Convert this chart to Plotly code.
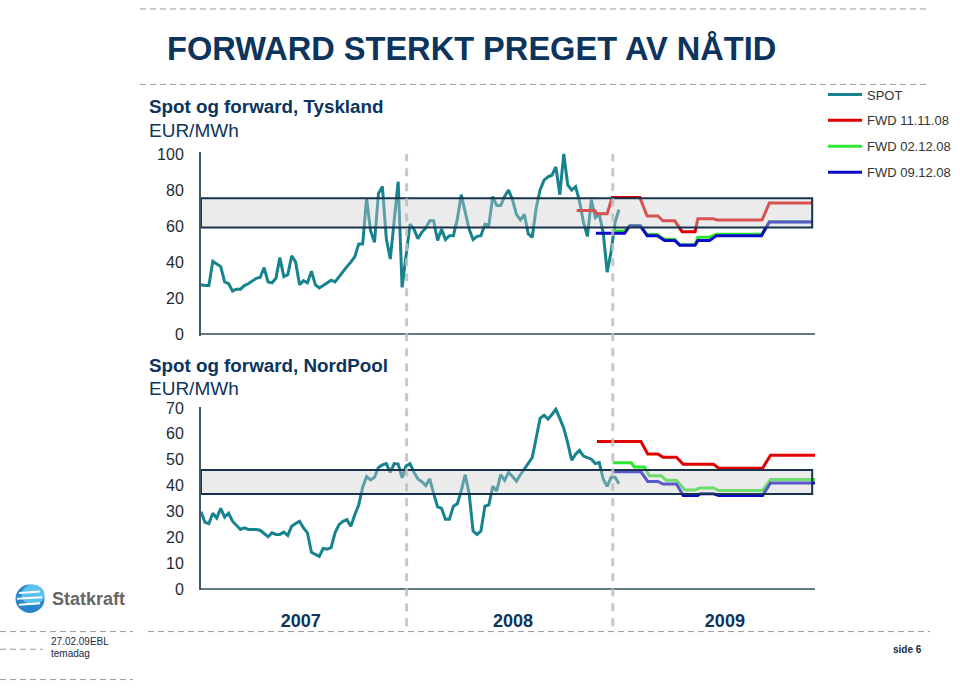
import plotly.graph_objects as go
import pandas as pd

# ---------------- data ----------------
spot_start = "2007-01-01"   # weekly spot prices from this date

spot_de = [27.5, 27.0, 27.0, 40.5, 39.0, 37.5, 29.0, 28.0, 24.0, 25.0,
           25.0, 27.0, 28.0, 29.5, 31.0, 31.5, 37.0, 29.0, 28.5, 31.0,
           42.5, 32.0, 33.0, 43.5, 40.0, 27.5, 29.7, 28.5, 35.0, 27.5,
           25.7, 27.0, 28.5, 30.0, 29.0, 32.0, 35.0, 37.5, 40.0, 43.0,
           50.0, 50.0, 75.5, 57.4, 51.0, 78.0, 82.0, 53.0, 41.7, 64.0,
           84.6, 26.0,
           42.0, 61.0, 58.3, 53.0, 56.5, 59.0, 63.0, 63.0, 52.0, 58.3,
           52.5, 54.7, 54.7, 63.8, 77.4, 67.4, 58.3, 52.5, 54.3, 54.7,
           61.0, 60.5, 76.4, 71.4, 71.4, 76.4, 80.0, 74.6, 66.5, 63.4,
           66.5, 55.6, 53.8, 70.0, 80.0, 85.5, 87.3, 88.2, 92.8, 77.4,
           100.0, 82.8, 80.0, 81.9, 73.7, 62.0, 54.3, 74.6, 64.7, 66.5,
           56.5, 34.4, 45.7, 62.0, 69.2]

spot_np = [29.9, 25.8, 25.3, 29.3, 27.4, 31.2, 27.8, 29.3, 26.2, 24.5,
           23.0, 23.6, 23.0, 23.0, 23.0, 22.7, 21.5, 20.2, 21.7, 21.1,
           21.1, 22.0, 20.7, 24.3, 25.3, 26.2, 23.6, 21.7, 14.2, 13.5,
           12.6, 15.7, 15.4, 16.0, 21.7, 24.9, 26.2, 26.8, 24.3, 28.7,
           32.5, 39.4, 43.5, 42.2, 43.2, 47.0, 48.0, 48.5, 45.1, 48.5,
           48.3, 43.0, 47.6, 48.5, 45.1, 42.6, 41.5, 40.0, 42.6, 37.0,
           31.8, 31.2, 27.0, 27.0, 32.0, 32.9, 38.0, 44.2, 36.9, 22.4,
           21.1, 22.4, 32.0, 32.5, 39.7, 37.9, 44.2, 42.0, 45.1, 43.5,
           41.7, 44.2, 46.4, 48.3, 50.8, 58.4, 66.0, 67.2, 65.7, 67.5,
           69.5, 66.0, 62.2, 56.5, 49.8, 52.1, 53.6, 51.4, 50.8, 50.2,
           48.5, 48.9, 42.6, 39.7, 43.2, 43.2, 40.7]

# Germany forwards (date, price)
fwd_de_1111_dates = ["2008-10-29", "2008-11-30", "2008-12-04", "2008-12-22", "2008-12-31",
                     "2009-02-18", "2009-03-03", "2009-03-22", "2009-03-31", "2009-04-21",
                     "2009-05-04", "2009-05-27", "2009-06-01", "2009-06-28", "2009-07-05",
                     "2009-09-23", "2009-10-06", "2009-12-21"]
fwd_de_1111 = [68.6, 68.6, 66.8, 66.8, 75.9, 75.9, 65.6, 65.6, 62.9, 62.9,
               56.9, 56.9, 64.1, 64.1, 63.4, 63.4, 72.8, 72.8]

fwd_de_0212_dates = ["2009-01-01", "2009-01-22", "2009-01-31", "2009-02-19", "2009-03-03",
                     "2009-03-21", "2009-04-03", "2009-04-21", "2009-04-30", "2009-05-27",
                     "2009-06-01", "2009-06-22", "2009-07-04", "2009-09-22", "2009-10-06",
                     "2009-12-21"]
fwd_de_0212 = [57.2, 57.2, 60.3, 60.3, 55.3, 55.3, 52.7, 52.7, 49.6, 49.6,
               53.8, 53.8, 55.4, 55.4, 62.4, 62.4]

fwd_de_0912_dates = ["2008-12-02", "2009-01-22", "2009-01-31", "2009-02-19", "2009-03-03",
                     "2009-03-21", "2009-04-03", "2009-04-21", "2009-04-30", "2009-05-27",
                     "2009-06-01", "2009-06-22", "2009-07-04", "2009-09-22", "2009-10-06",
                     "2009-12-21"]
fwd_de_0912 = [56.0, 56.0, 60.1, 60.1, 54.7, 54.7, 52.0, 52.0, 49.3, 49.3,
               52.0, 52.0, 54.7, 54.7, 62.3, 62.3]

# NordPool forwards (date, price)
fwd_np_1111_dates = ["2008-12-04", "2009-02-20", "2009-03-04", "2009-03-22", "2009-03-31",
                     "2009-04-24", "2009-05-06", "2009-06-29", "2009-07-08", "2009-09-24",
                     "2009-10-08", "2009-12-26"]
fwd_np_1111 = [57.0, 57.0, 52.2, 52.2, 51.0, 51.0, 48.2, 48.2, 46.7, 46.7, 51.7, 51.7]

fwd_np_0212_dates = ["2009-01-01", "2009-02-03", "2009-02-08", "2009-02-26", "2009-03-07",
                     "2009-03-28", "2009-04-06", "2009-04-24", "2009-05-09", "2009-05-27",
                     "2009-06-05", "2009-06-29", "2009-07-08", "2009-09-24", "2009-10-08",
                     "2009-12-26"]
fwd_np_0212 = [48.8, 48.8, 47.2, 47.2, 43.8, 43.8, 42.1, 42.1, 38.3, 38.3,
               39.1, 39.1, 38.1, 38.1, 42.3, 42.3]

fwd_np_0912_dates = ["2009-01-01", "2009-02-20", "2009-03-04", "2009-03-22", "2009-03-31",
                     "2009-04-24", "2009-05-06", "2009-06-01", "2009-06-05", "2009-06-29",
                     "2009-07-08", "2009-09-24", "2009-10-08", "2009-12-26"]
fwd_np_0912 = [45.3, 45.3, 41.6, 41.6, 40.6, 40.6, 36.2, 36.2, 36.8, 36.8,
               36.2, 36.2, 41.0, 41.0]

band_de = [59.2, 75.5]
band_np = [36.7, 46.0]
band_end = "2009-12-21"
year_starts = ["2008-01-01", "2009-01-01"]
year_labels = ["2007", "2008", "2009"]
year_label_pos = ["2007-06-27", "2008-07-08", "2009-07-19"]
series_names = ["SPOT", "FWD 11.11.08", "FWD 02.12.08", "FWD 09.12.08"]

# ---------------- style ----------------
W, H = 960, 691
C_SPOT, C_RED, C_GREEN, C_BLUE = "#16838f", "#e00000", "#2ee62e", "#0a0ac8"
NAVY = "#0c345c"
ARIAL = "Liberation Sans, Arial, sans-serif"

def px(v):   # horizontal pixel -> paper
    return v / W

def py(v):   # vertical pixel -> paper
    return 1 - v / H

spot_dates = pd.date_range(spot_start, periods=len(spot_de), freq="7D")
xr = ["2007-01-01", "2009-12-26"]

fig = go.Figure()

def add(x, y, name, color, axis, show):
    fig.add_trace(go.Scatter(
        x=x, y=y, name=name, mode="lines",
        line=dict(color=color, width=3),
        xaxis="x" if axis == 1 else "x2", yaxis="y" if axis == 1 else "y2",
        legendgroup=name, showlegend=show, hoverinfo="skip"))

add(spot_dates, spot_de, series_names[0], C_SPOT, 1, True)
add(fwd_de_1111_dates, fwd_de_1111, series_names[1], C_RED, 1, True)
add(fwd_de_0212_dates, fwd_de_0212, series_names[2], C_GREEN, 1, True)
add(fwd_de_0912_dates, fwd_de_0912, series_names[3], C_BLUE, 1, True)
add(spot_dates, spot_np, series_names[0], C_SPOT, 2, False)
add(fwd_np_1111_dates, fwd_np_1111, series_names[1], C_RED, 2, False)
add(fwd_np_0212_dates, fwd_np_0212, series_names[2], C_GREEN, 2, False)
add(fwd_np_0912_dates, fwd_np_0912, series_names[3], C_BLUE, 2, False)

shapes = []
# bands (drawn above the lines, translucent)
shapes.append(dict(type="rect", xref="x", yref="y", x0=xr[0], x1=band_end,
                   y0=band_de[0], y1=band_de[1], layer="above",
                   fillcolor="rgba(205,205,205,0.4)", line=dict(color="#17324d", width=2)))
shapes.append(dict(type="rect", xref="x2", yref="y2", x0=xr[0], x1=band_end,
                   y0=band_np[0], y1=band_np[1], layer="above",
                   fillcolor="rgba(205,205,205,0.4)", line=dict(color="#17324d", width=2)))
# year separators
for d in year_starts:
    shapes.append(dict(type="line", xref="x2", yref="paper", x0=d, x1=d,
                       y0=py(632), y1=py(150), layer="above",
                       line=dict(color="rgba(190,190,190,0.85)", width=3, dash="8px,7px")))
# template guide lines
guides = [(140, 930, 2), (140, 930, 79), (0, 133, 637.5), (148, 930, 637.5),
          (0, 43, 655.5), (0, 133, 686.5)]
for x0, x1, yy in guides:
    shapes.append(dict(type="line", xref="paper", yref="paper", x0=px(x0), x1=px(x1),
                       y0=py(yy), y1=py(yy),
                       line=dict(color="#9a9a9a", width=1, dash="6px,4px")))
# logo sphere
cx, cy, r = 30, 604, 14.5
shapes.append(dict(type="circle", xref="paper", yref="paper",
                   x0=px(cx - r), x1=px(cx + r), y0=py(cy + r), y1=py(cy - r),
                   fillcolor="#2a86cc", line=dict(width=0)))
shapes.append(dict(type="circle", xref="paper", yref="paper",
                   x0=px(cx - r + 6), x1=px(cx + r), y0=py(cy + r - 8), y1=py(cy - r),
                   fillcolor="#5cc0ee", line=dict(width=0)))
for (a, b, yy) in [(19, 40, 598), (17, 42, 604), (19, 40, 610)]:
    shapes.append(dict(type="line", xref="paper", yref="paper", x0=px(a), x1=px(b),
                       y0=py(yy), y1=py(yy - 1.5), line=dict(color="white", width=2)))

ann = []
def text(t, x, y, size, color=NAVY, family=ARIAL, xanchor="left"):
    ann.append(dict(text=t, x=px(x), y=py(y), xref="paper", yref="paper",
                    xanchor=xanchor, yanchor="middle", showarrow=False,
                    font=dict(size=size, color=color, family=family)))

text("<b>FORWARD STERKT PREGET AV NÅTID</b>", 165, 42, 32.6)
text("<b>Spot og forward, Tyskland</b>", 147, 102, 18.8)
text("EUR/MWh", 147, 126, 19)
text("<b>Spot og forward, NordPool</b>", 147, 366, 18.8)
text("EUR/MWh", 147, 389, 19)
text("<b>Statkraft</b>", 50, 604, 18, color="#666666")
text("27.02.09EBL", 49, 648, 10, color="#1a2a40")
text("temadag", 49, 660, 10, color="#1a2a40")
text("<b>side 6</b>", 907, 656, 10, color="#1a2a40", xanchor="center")

axis_common = dict(showgrid=False, zeroline=False, range=xr, type="date",
                   domain=[px(201), px(815)], showline=False)
yax_common = dict(showgrid=False, showline=True, linecolor="#3d5a66", linewidth=2,
                  zeroline=True, zerolinecolor="#5f7a80", zerolinewidth=2,
                  ticks="", ticklabelstandoff=12,
                  tickfont=dict(size=16, color="#1c2b3a", family=ARIAL))

fig.update_layout(
    width=W, height=H, margin=dict(l=0, r=0, t=0, b=0),
    paper_bgcolor="white", plot_bgcolor="white",
    xaxis=dict(**axis_common, anchor="y", showticklabels=False),
    xaxis2=dict(**axis_common, anchor="y2", tickvals=year_label_pos, ticktext=year_labels,
                ticks="", ticklabelstandoff=18,
                tickfont=dict(size=18, color=NAVY, family=ARIAL, weight="bold")),
    yaxis=dict(**yax_common, anchor="x", range=[-1, 101],
               domain=[py(335.84), py(148.16)], tickvals=[0, 20, 40, 60, 80, 100]),
    yaxis2=dict(**yax_common, anchor="x2", range=[-0.5, 70.5],
                domain=[py(595.3), py(408.0)], tickvals=[0, 10, 20, 30, 40, 50, 60, 70]),
    legend=dict(x=px(823), y=py(74), xanchor="left", yanchor="top",
                font=dict(size=13, color="#333333", family=ARIAL),
                traceorder="grouped", tracegroupgap=6, itemwidth=34,
                bgcolor="rgba(0,0,0,0)"),
    shapes=shapes, annotations=ann, showlegend=True,
)

fig.write_html("out.html")
